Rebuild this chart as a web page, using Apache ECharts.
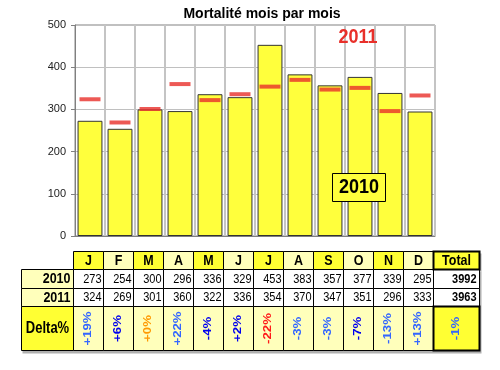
<!DOCTYPE html>
<html><head><meta charset="utf-8">
<script src="https://cdn.jsdelivr.net/npm/echarts/dist/echarts.min.js"></script>
<style>html,body{margin:0;padding:0;background:#fff}#c{width:500px;height:370px}</style>
</head><body><div id="c"></div>
<script>
// ---- data ----
const months = ['J','F','M','A','M','J','J','A','S','O','N','D'];
const deaths2010 = [273,254,300,296,336,329,453,383,357,377,339,295];
const deaths2011 = [324,269,301,360,322,336,354,370,347,351,296,333];
const total2010 = 3992;
const total2011 = 3963;
const deltaLabels = ['+19%','+6%','+0%','+22%','-4%','+2%','-22%','-3%','-3%','-7%','-13%','+13%'];
const deltaTotal = '-1%';
const yTicks = [0,100,200,300,400,500];
const rowLabels = ['2010','2011','Delta%'];

// ---- styles ----
const LB = '#3366ff', DB = '#0000ee', OR = '#ff9900', RD = '#ff1a1a';
const deltaColors = [LB,DB,OR,LB,DB,DB,RD,LB,LB,DB,LB,LB];
const BRIGHT = '#ffff33', PALE = '#ffffbb', RED = '#e8302a';

const chart = echarts.init(document.getElementById('c'));
chart.setOption({
  animation:false,
  backgroundColor:'#fff',
  title:{text:'Mortalité mois par mois', left:257, top:2, textAlign:'center',
    textStyle:{fontFamily:'Liberation Sans, Arial, sans-serif', fontSize:14, fontWeight:'bold', color:'#000'}},
  grid:{left:75, top:25, width:360, height:211, show:true, borderColor:'#808080', borderWidth:1, backgroundColor:'#fff', outerBoundsMode:'none'},
  xAxis:{type:'category', data:months, boundaryGap:true,
    axisLine:{show:true, lineStyle:{color:'#808080'}}, axisTick:{show:false}, axisLabel:{show:false},
    splitLine:{show:true, lineStyle:{color:'#c4c4c4', width:2}}},
  yAxis:{type:'value', min:yTicks[0], max:yTicks[yTicks.length-1], interval:yTicks[1]-yTicks[0],
    axisLine:{show:true, lineStyle:{color:'#808080'}},
    axisTick:{show:true, inside:false, length:4, lineStyle:{color:'#808080'}},
    axisLabel:{margin:9, fontFamily:'Liberation Sans, Arial, sans-serif', fontSize:11, color:'#222'},
    splitLine:{show:true, lineStyle:{color:'#c0c0c0'}}},
  series:[
    {type:'bar', name:'2010', data:deaths2010, barWidth:'83%',
      itemStyle:{color:'#ffff3c', borderColor:'#333', borderWidth:1}, z:2},
    {type:'scatter', name:'2011', data:deaths2011, symbol:'rect', symbolSize:[21,4],
      itemStyle:{color:RED}, z:5}
  ]
});

// ---- table built on the x axis columns ----
const c0 = chart.convertToPixel({xAxisIndex:0}, 0);
const c1 = chart.convertToPixel({xAxisIndex:0}, 1);
const W = c1 - c0;
const colLeft = i => Math.round(c0 - W/2 + i*W - 2) + 0.5;
const rowsY = [251.5, 269.5, 288.5, 306.5, 350.5];
const labelL = 21.5;
const totalL = colLeft(12), totalR = totalL + 46;
const FONT = 'Liberation Sans, Arial, sans-serif';
const el = [];
function rect(x,y,w,h,fill,lw,z){ el.push({type:'rect', z:z||10, shape:{x,y,width:w,height:h}, style:{fill, stroke:'#000', lineWidth:lw||1}}); }
function txt(x,y,s,o){
  o = o||{};
  el.push({type:'text', z:20, x, y, rotation:o.rot||0, scaleX:o.sx||1, scaleY:o.sy||1.2,
    style:{text:s, font:(o.bold?'bold ':'')+(o.size||12)+'px '+FONT, fill:o.color||'#000',
      align:o.align||'center', verticalAlign:'middle', textAlign:o.align||'center', textVerticalAlign:'middle'}});
}
// shadow
el.push({type:'rect', z:5, shape:{x:labelL+1, y:rowsY[1]+2, width:totalR-labelL+1, height:rowsY[4]-rowsY[1]+1}, style:{fill:'#b0b0b0'}});
el.push({type:'rect', z:5, shape:{x:colLeft(0)+1, y:rowsY[0]+2, width:totalR-colLeft(0)+1, height:rowsY[1]-rowsY[0]}, style:{fill:'#b0b0b0'}});
// row label cells
rect(labelL, rowsY[1], colLeft(0)-labelL, rowsY[2]-rowsY[1], PALE);
rect(labelL, rowsY[2], colLeft(0)-labelL, rowsY[3]-rowsY[2], PALE);
rect(labelL, rowsY[3], colLeft(0)-labelL, rowsY[4]-rowsY[3], BRIGHT);
txt(colLeft(0)-3, (rowsY[1]+rowsY[2])/2, rowLabels[0], {bold:true, align:'right', size:12.5});
txt(colLeft(0)-3, (rowsY[2]+rowsY[3])/2, rowLabels[1], {bold:true, align:'right', size:12.5});
txt((labelL+colLeft(0))/2, (rowsY[3]+rowsY[4])/2, rowLabels[2], {bold:true, size:13});
// month columns
months.forEach((m,i)=>{
  const x = colLeft(i), w = colLeft(i+1)-x, cx = x + w/2;
  rect(x, rowsY[0], w, rowsY[1]-rowsY[0], i%2===0?BRIGHT:PALE);
  rect(x, rowsY[1], w, rowsY[2]-rowsY[1], '#fff');
  rect(x, rowsY[2], w, rowsY[3]-rowsY[2], '#fff');
  rect(x, rowsY[3], w, rowsY[4]-rowsY[3], PALE);
  txt(cx, (rowsY[0]+rowsY[1])/2, m, {bold:true, size:12.5});
  txt(x+w-2, (rowsY[1]+rowsY[2])/2, String(deaths2010[i]), {align:'right', size:11});
  txt(x+w-2, (rowsY[2]+rowsY[3])/2, String(deaths2011[i]), {align:'right', size:11});
  txt(cx-1, (rowsY[3]+rowsY[4])/2, deltaLabels[i], {bold:true, size:11, rot:Math.PI/2, sx:1.2, sy:1, color:deltaColors[i]});
});
// total column
rect(totalL, rowsY[1], totalR-totalL, rowsY[2]-rowsY[1], '#fff');
rect(totalL, rowsY[2], totalR-totalL, rowsY[3]-rowsY[2], '#fff');
rect(totalL, rowsY[0], totalR-totalL, rowsY[1]-rowsY[0], BRIGHT, 2, 12);
rect(totalL, rowsY[3], totalR-totalL, rowsY[4]-rowsY[3], BRIGHT, 2, 12);
txt((totalL+totalR)/2, (rowsY[0]+rowsY[1])/2, 'Total', {bold:true, size:12.5});
txt(totalR-3, (rowsY[1]+rowsY[2])/2, String(total2010), {align:'right', size:11, bold:true});
txt(totalR-3, (rowsY[2]+rowsY[3])/2, String(total2011), {align:'right', size:11, bold:true});
txt((totalL+totalR)/2-1, (rowsY[3]+rowsY[4])/2, deltaTotal, {bold:true, size:11, rot:Math.PI/2, sx:1.2, sy:1, color:LB});
// series labels in plot
el.push({type:'text', z:20, x:358, y:38, scaleY:1.1, style:{text:'2011', font:'bold 18px '+FONT, fill:RED, align:'center', verticalAlign:'middle', textAlign:'center', textVerticalAlign:'middle'}});
el.push({type:'rect', z:15, shape:{x:332.5, y:173.5, width:53, height:28}, style:{fill:'#ffff3c', stroke:'#000', lineWidth:1}});
el.push({type:'text', z:20, x:359, y:188, scaleY:1.1, style:{text:'2010', font:'bold 18px '+FONT, fill:'#000', align:'center', verticalAlign:'middle', textAlign:'center', textVerticalAlign:'middle'}});
chart.setOption({graphic:{elements:el}});
</script></body></html>
